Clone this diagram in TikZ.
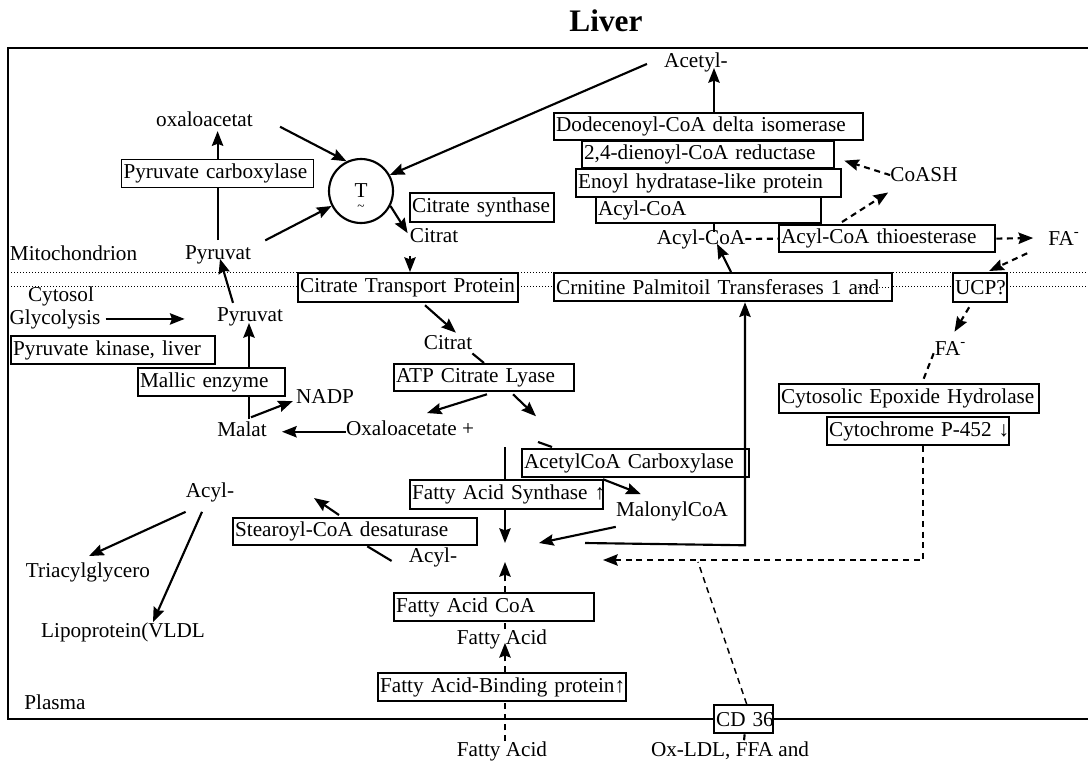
\documentclass[tikz,border=0pt]{standalone}
\usepackage{fontspec}
\setmainfont{Liberation Serif}
\usetikzlibrary{arrows.meta,calc}
\pgfdeclarelayer{bg}
\pgfsetlayers{bg,main}
\newcommand\bxn[7][]{%
  \pgfmathsetmacro\bxw{(#5-#3)*0.75-3}%
  \pgfmathsetmacro\bxh{(#6-#4)*0.75}%
  \node[bx,#1,text width=\bxw pt,minimum height=\bxh pt,anchor=north west] (#2) at (#3,#4) {\mbox{#7}};}
\begin{document}
\begin{tikzpicture}[x=0.75pt,y=-0.75pt,
  font=\fontsize{15.9}{18}\selectfont,
  bx/.style={draw,line width=1.7pt,fill=white,inner xsep=1.5pt,inner ysep=0pt,align=left},
  thinbx/.style={line width=0.9pt},
  txt/.style={inner sep=0pt,anchor=base},
  ln/.style={line width=1.6pt},
  arr/.style={line width=1.6pt,-{Stealth[length=11pt,width=8.5pt,inset=1.5pt]}},
  dsh/.style={line width=1.6pt,dash pattern=on 4.5pt off 3.5pt},
  dotl/.style={line width=0.65pt,dash pattern=on 0.65pt off 1.6pt}]
\useasboundingbox (0,0) rectangle (1088,768);

% title
\node[txt] (title) at (606,31) {\fontsize{23.5}{28}\selectfont\bfseries Liver};

% boxes
\bxn[thinbx]{pyrcarb}{121}{159}{313}{187}{Pyruvate carboxylase}
\bxn{citsyn}{409}{192}{553}{221}{Citrate synthase}
\bxn{dodec}{553}{112}{862}{139}{Dodecenoyl-CoA delta isomerase}
\bxn{dienoyl}{581}{140}{833}{167}{2,4-dienoyl-CoA reductase}
\bxn{enoyl}{575}{168}{840}{196}{Enoyl hydratase-like protein}
\bxn{acylbox}{595}{196}{820}{222}{Acyl-CoA}
\bxn{thio}{778}{224}{994}{251}{Acyl-CoA thioesterase}
\bxn{ctp}{297}{272}{517}{301}{Citrate Transport Protein}
\bxn{crn}{553}{272}{891}{300}{Crnitine Palmitoil Transferases 1 and}
\bxn{ucp}{952}{272}{1006}{301}{UCP?}
\bxn{pk}{10}{335}{214}{363}{Pyruvate kinase, liver}
\bxn{malic}{137}{367}{284}{395}{Mallic enzyme}
\bxn{acl}{393}{363}{573}{390}{ATP Citrate Lyase}
\bxn{ceh}{778}{383}{1038}{412}{Cytosolic Epoxide Hydrolase}
\bxn{cyp}{826}{416}{1008}{444}{Cytochrome P-452 ↓}
\bxn{acc}{521}{448}{748}{476}{AcetylCoA Carboxylase}
\bxn{fas}{409}{479}{602}{508}{Fatty Acid Synthase ↑}
\bxn{scd}{232}{517}{476}{544}{Stearoyl-CoA desaturase}
\bxn{facoa}{393}{592}{593}{620}{Fatty Acid CoA}
\bxn{fabp}{377}{672}{625}{700}{Fatty Acid-Binding protein↑}
\bxn{cd36}{713}{704}{772}{732}{CD 36}

% circle
\node[draw,circle,line width=1.6pt,minimum size=48pt,inner sep=0pt] (circ) at (361,191) {};
\node[txt] (tT) at (361,197) {T};
\node[inner sep=0pt,font=\fontsize{10}{12}\selectfont] (tilde) at (361,208) {\textasciitilde};

% plain texts
\node[txt] (oxa) at (204.5,126) {oxaloacetat};
\node[txt] (pyruv1) at (218,259) {Pyruvat};
\node[txt] (mito) at (73.5,260) {Mitochondrion};
\node[txt] (citrat1) at (434,242) {Citrat};
\node[txt] (acetyl) at (696,67) {Acetyl-};
\node[txt] (coash) at (924,181) {CoASH};
\node[txt] (acyllab) at (701,244) {Acyl-CoA};
\node[txt] (fa1) at (1064,245) {FA\textsuperscript{-}};
\node[txt] (cytosol) at (61,301) {Cytosol};
\node[txt] (glyc) at (55,324) {Glycolysis};
\node[txt] (pyruv2) at (250,321) {Pyruvat};
\node[txt] (citrat2) at (448,349) {Citrat};
\node[txt] (nadp) at (325,403) {NADP};
\node[txt] (malat) at (242,436) {Malat};
\node[txt] (oxplus) at (410,435) {Oxaloacetate +};
\node[txt] (fa2) at (950.5,355) {FA\textsuperscript{-}};
\node[txt] (malonyl) at (672,516) {MalonylCoA};
\node[txt] (acyl1) at (210,497) {Acyl-};
\node[txt] (acyl2) at (433,562) {Acyl-};
\node[txt] (triacyl) at (88,577) {Triacylglycero};
\node[txt] (lipo) at (123,637) {Lipoprotein(VLDL};
\node[txt] (fa) at (502,644) {Fatty Acid};
\node[txt] (plasma) at (55,709) {Plasma};
\node[txt] (fabot) at (502,756) {Fatty Acid};
\node[txt] (oxldl) at (730,756) {Ox-LDL, FFA and};
\coordinate (hub) at (505,552);

% background: membranes, frame, line behind FAS
\begin{pgfonlayer}{bg}
\draw[dotl] (8,272) -- (1088,272);
\draw[dotl] (8,286) -- (1088,286);
\draw[line width=1.8pt] (1088,48) -- (8,48) -- (8,719) -- (1088,719);
\draw[arr] ($(fas.north west)+(96,-32)$) -- ($(hub)+(0,-9)$);
\end{pgfonlayer}
\draw[dotl] ($(crn.east)+(-35,0)$) -- (crn.east);

% mitochondrion
\draw[arr,shorten >=3.5pt] (pyrcarb.north) -- (oxa.south -| pyrcarb.north);
\draw[ln,shorten <=3.5pt] (pyruv1.north -| pyrcarb.south) -- (pyrcarb.south);
\draw[arr] ($(oxa.east)+(27,8)$) -- (circ.116);
\draw[arr] ($(pyruv1.east)+(14,-14)$) -- (circ.207);
\draw[arr] ($(acetyl.west)+(-17,2)$) -- (circ.29);
\draw[arr] (circ.333) -- ($(citrat1.west)+(-2,-2)$);
\draw[arr] ($(ctp.north west)+(113,-16)$) -- ($(ctp.north west)+(113,0)$);
\draw[arr] ($(dodec.north west)+(161,0)$) -- ($(dodec.north west)+(161,-44)$);
\draw[ln] ($(acylbox.south west)+(119,0)$) -- ($(acylbox.south west)+(119,8)$);
\draw[arr] ($(crn.north west)+(178,0)$) -- ($(acyllab.south)+(16,-5)$);
\draw[dsh] (acyllab.east) -- (thio.west);
\draw[dsh,arr] (thio.east) -- ($(fa1.west)+(-15,0)$);
\draw[dsh,arr] ($(thio.north west)+(64,-2)$) -- ($(coash.south west)+(-2,11)$);
\draw[dsh,arr] ($(coash.west)+(0,1)$) -- ($(dienoyl.east)+(9,6)$);
\draw[dsh,arr] ($(fa1.south west)+(-21,8)$) -- ($(ucp.north)+(9,-1)$);
\draw[dsh,arr] ($(ucp.south)+(-11,4)$) -- ($(fa2.north)+(4,-9)$);
\draw[dsh] ($(fa2.south west)+(-1,-2)$) -- ($(ceh.north west)+(144,0)$);

% cytosol
\draw[arr] ($(pyruv2.north)+(-17,-4)$) -- ($(pyruv1.south)+(2,-5)$);
\draw[arr] ($(glyc.east)+(5,0)$) -- ++(79,0);
\draw[arr] ($(malic.north west)+(112,0)$) -- ($(malic.north west)+(112,-44)$);
\draw[ln] ($(malic.south west)+(112,22)$) -- ($(malic.south west)+(112,0)$);
\draw[arr] ($(malic.south west)+(114,20)$) -- ($(nadp.west)+(-3,5)$);
\draw[arr] ($(oxplus.west)+(0,4)$) -- ($(malat.east)+(15,3)$);
\draw[arr] ($(ctp.south west)+(128,2)$) -- ($(citrat2.north)+(8,-2)$);
\draw[ln] ($(citrat2.south east)+(0,4)$) -- ($(acl.north west)+(91,0)$);
\draw[arr] ($(acl.south west)+(94,2)$) -- ($(oxplus.north)+(17,-7)$);
\draw[arr] ($(acl.south west)+(120,2)$) -- ++(23,22);
\draw[ln] ($(acc.north west)+(17,-6)$) -- ($(acc.north west)+(31,-1)$);
\draw[arr] ($(acc.south west)+(82,1)$) -- ($(malonyl.north west)+(25,-7)$);
\draw[arr] ($(malonyl.south west)+(0,6)$) -- ($(hub)+(34,-9)$);
\draw[arr] ($(hub)+(80,-9)$) -- ($(crn.south west)+(192,243)$) -- ($(crn.south west)+(192,0)$);
\draw[dsh,arr] ($(cyp.south)+(5,0)$) |- ($(hub)+(98,8)$);
\draw[dsh,line width=1.1pt] ($(cd36.north)+(3,0)$) -- ($(hub)+(193,10)$);
\draw[dsh] ($(cd36.south)+(1,0)$) -- ($(oxldl.north)+(14,0)$);
\draw[arr] ($(scd.north west)+(107,-2)$) -- ++(-25,-17);
\draw[ln] ($(acyl2.west)+(-17,4)$) -- ($(scd.south east)+(-111,0)$);
\draw[arr] ($(acyl1.south west)+(0,10)$) -- ($(triacyl.north)+(1,-6)$);
\draw[arr] ($(acyl1.south)+(-8,10)$) -- ($(lipo.north)+(30,0)$);

% fatty acid import
\draw[dsh,arr] ($(facoa.north west)+(112,0)$) -- ($(hub)+(0,10)$);
\draw[dsh] ($(fa.north)+(3,0)$) -- ($(facoa.south west)+(112,0)$);
\draw[dsh,arr] ($(fabp.north west)+(128,0)$) -- ($(fa.south)+(3,-6)$);
\draw[dsh] ($(fabot.north)+(3,0)$) -- ($(fabp.south west)+(128,0)$);
\end{tikzpicture}
\end{document}
